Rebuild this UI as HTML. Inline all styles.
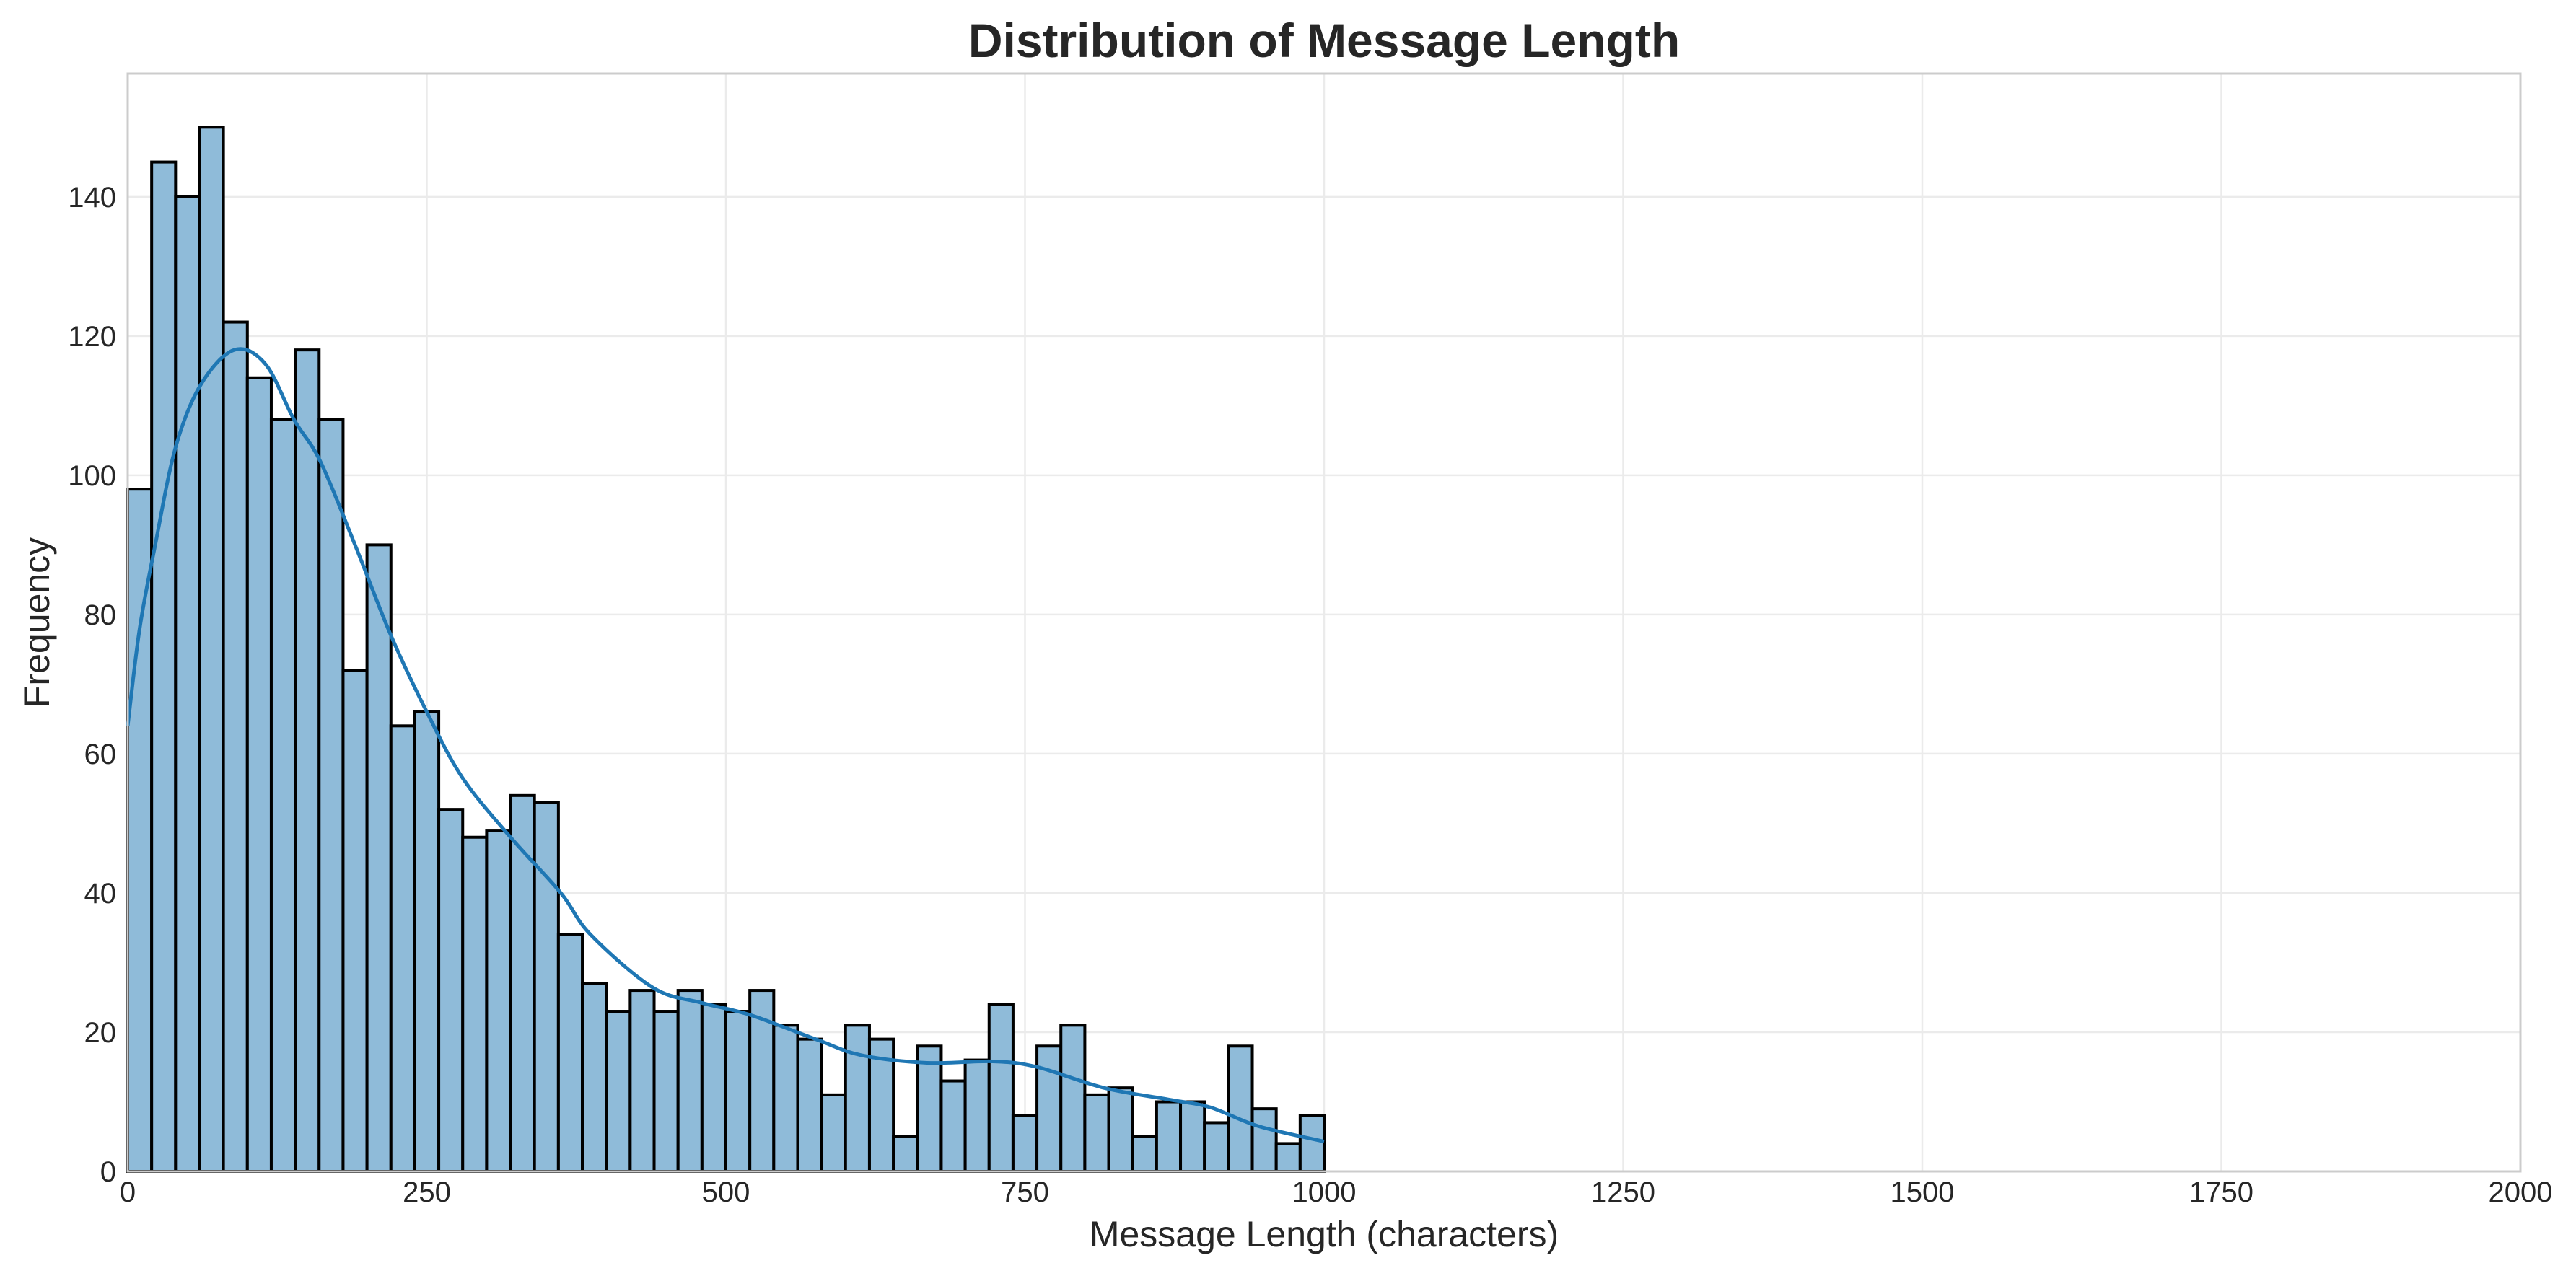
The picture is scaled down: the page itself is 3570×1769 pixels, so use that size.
<!DOCTYPE html>
<html><head><meta charset="utf-8"><style>
html,body{margin:0;padding:0;background:#fff;}
svg{display:block;font-family:"Liberation Sans",sans-serif;}
</style></head><body>
<svg id="chart" width="3570" height="1769" viewBox="0 0 3570 1769" xmlns="http://www.w3.org/2000/svg">
<rect width="3570" height="1769" fill="#fff"/>
<g id="grid"></g>
<g id="bars"></g>
<path id="kde" fill="none" stroke="#1f77b4" stroke-width="5" stroke-linejoin="round"/>
<rect x="177" y="102" width="3316" height="1522" fill="none" stroke="#cccccc" stroke-width="3"/>
<g id="ticks"></g>
<text x="1835" y="79" text-anchor="middle" font-size="66" font-weight="bold" fill="#262626">Distribution of Message Length</text>
<text x="1835" y="1728" text-anchor="middle" font-size="50" fill="#262626">Message Length (characters)</text>
<text transform="translate(68,863) rotate(-90)" text-anchor="middle" font-size="50" fill="#262626">Frequency</text>
</svg>
<script>
const binStart = 0;
const binWidth = 20;
const counts = [98,145,140,150,122,114,108,118,108,72,90,64,66,52,48,49,54,53,34,27,23,26,23,26,24,23,26,21,19,11,21,19,5,18,13,16,24,8,18,21,11,12,5,10,10,7,18,9,4,8];
const kdeX = [0,10,23,40,61,89,115,139,161,190,220,250,280,320,362,387,439,480,520,575,613,668,723,760,816,871,905,945,1000];
const kdeY = [64,78,90,104,113,118,116,108,102,90,77,66,56.5,48,40,34,26.4,24.2,22.5,19,16.7,15.6,15.8,15,12,10.3,9.2,6.5,4.3];
const xTicks = [0,250,500,750,1000,1250,1500,1750,2000];
const yTicks = [0,20,40,60,80,100,120,140];

const X0=177, X1=3493, Y0=1624, Y1=102, XMAX=2000, YMAX=157.7;
function sx(v){return X0+(v/XMAX)*(X1-X0);}
function sy(v){return Y0-(v/YMAX)*(Y0-Y1);}
const NS="http://www.w3.org/2000/svg";
function mk(tag,attrs,parent){const e=document.createElementNS(NS,tag);for(const k in attrs)e.setAttribute(k,attrs[k]);parent.appendChild(e);return e;}

const grid=document.getElementById('grid');
const ticks=document.getElementById('ticks');
xTicks.forEach(t=>{
  const l=mk('line',{x1:sx(t),x2:sx(t),y1:Y1,y2:Y0,stroke:'#ebebeb','stroke-width':2.5},grid);
  
  
  const tx=mk('text',{x:sx(t),y:1666,'text-anchor':'middle','font-size':40,fill:'#262626'},ticks);
  tx.textContent=t;
  
  
});
yTicks.forEach(t=>{
  const l=mk('line',{x1:X0,x2:X1,y1:sy(t),y2:sy(t),stroke:'#ebebeb','stroke-width':2.5},grid);
  
  
  const tx=mk('text',{x:X0-16,y:sy(t)+14,'text-anchor':'end','font-size':40,fill:'#262626'},ticks);
  tx.textContent=t;
  
  
});
const bars=document.getElementById('bars');
counts.forEach((c,i)=>{
  const a=binStart+i*binWidth, b=a+binWidth;
  const r=mk('rect',{x:sx(a),y:sy(c),width:sx(b)-sx(a),height:sy(0)-sy(c),fill:'#8fbbd9',stroke:'#000','stroke-width':4},bars);
  
  
});
const pts=kdeX.map((x,i)=>[sx(x),sy(kdeY[i])]);
let d='M'+pts[0][0]+','+pts[0][1];
for(let i=0;i<pts.length-1;i++){
  const p0=pts[Math.max(0,i-1)],p1=pts[i],p2=pts[i+1],p3=pts[Math.min(pts.length-1,i+2)];
  const c1=[p1[0]+(p2[0]-p0[0])/6,p1[1]+(p2[1]-p0[1])/6];
  const c2=[p2[0]-(p3[0]-p1[0])/6,p2[1]-(p3[1]-p1[1])/6];
  d+=' C'+c1[0]+','+c1[1]+' '+c2[0]+','+c2[1]+' '+p2[0]+','+p2[1];
}
document.getElementById('kde').setAttribute('d',d);
</script>
</body></html>
